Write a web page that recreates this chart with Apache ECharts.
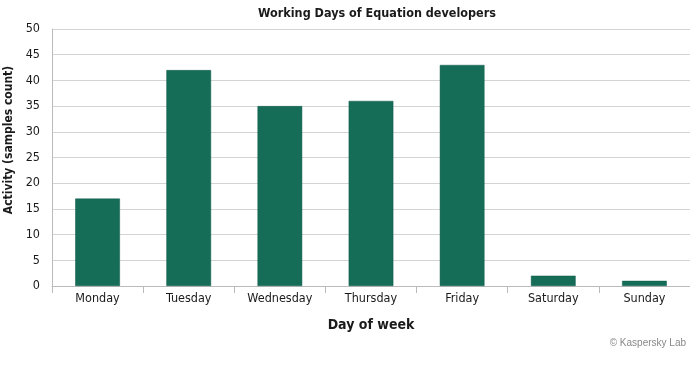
<!DOCTYPE html>
<html><head><meta charset="utf-8">
<script src="https://cdn.jsdelivr.net/npm/echarts@6/dist/echarts.min.js"></script>
<style>html,body{margin:0;padding:0;background:#fff}#c{width:690px;height:372px}</style>
</head><body><div id="c"></div>
<script>
var categories = ['Monday','Tuesday','Wednesday','Thursday','Friday','Saturday','Sunday'];
var activity = [17, 42, 35, 36, 43, 2, 1];
var FONT = '"Liberation Sans Narrow","DejaVu Sans Condensed",sans-serif';
var chart = echarts.init(document.getElementById('c'));
chart.setOption({
  animation: false,
  backgroundColor: '#fff',
  title: {
    text: 'Working Days of Equation developers',
    left: 372, textAlign: 'center', top: 2,
    textStyle: {fontFamily: FONT, fontSize: 12.5, fontWeight: 'bold', color: '#1a1a1a'}
  },
  graphic: [{
    type: 'text', x: 9, y: 140, rotation: Math.PI / 2,
    style: {text: 'Activity (samples count)', fill: '#1a1a1a', align: 'center', verticalAlign: 'middle',
      font: 'bold 12px ' + FONT}
  }, {
    type: 'text', right: 4, top: 338,
    style: {text: '© Kaspersky Lab', fill: '#888', font: '10px "Liberation Sans", Arial, sans-serif'}
  }],
  grid: {left: 52, right: 0, top: 29, bottom: 86, outerBoundsMode: 'none', containLabel: false},
  xAxis: {
    type: 'category', data: categories,
    name: 'Day of week', nameLocation: 'middle', nameGap: 32,
    nameTextStyle: {fontFamily: FONT, fontSize: 14, fontWeight: 'bold', color: '#1a1a1a'},
    axisLine: {lineStyle: {color: '#bbb', width: 1}},
    axisTick: {show: true, alignWithLabel: false, length: 7, lineStyle: {color: '#bbb'}},
    axisLabel: {fontFamily: FONT, fontSize: 12.5, color: '#1a1a1a', margin: 6, interval: 0}
  },
  yAxis: {
    type: 'value', min: 0, max: 50, interval: 5,
    axisLine: {show: true, lineStyle: {color: '#bbb'}},
    axisTick: {show: false},
    axisLabel: {fontFamily: FONT, fontSize: 12.5, color: '#1a1a1a', margin: 12},
    splitLine: {lineStyle: {color: '#d4d4d4', width: 1}}
  },
  series: [{
    type: 'bar', data: activity, barWidth: '49%',
    itemStyle: {color: '#156d58', borderColor: '#0f5a48', borderWidth: 0.5}
  }]
});
</script></body></html>
